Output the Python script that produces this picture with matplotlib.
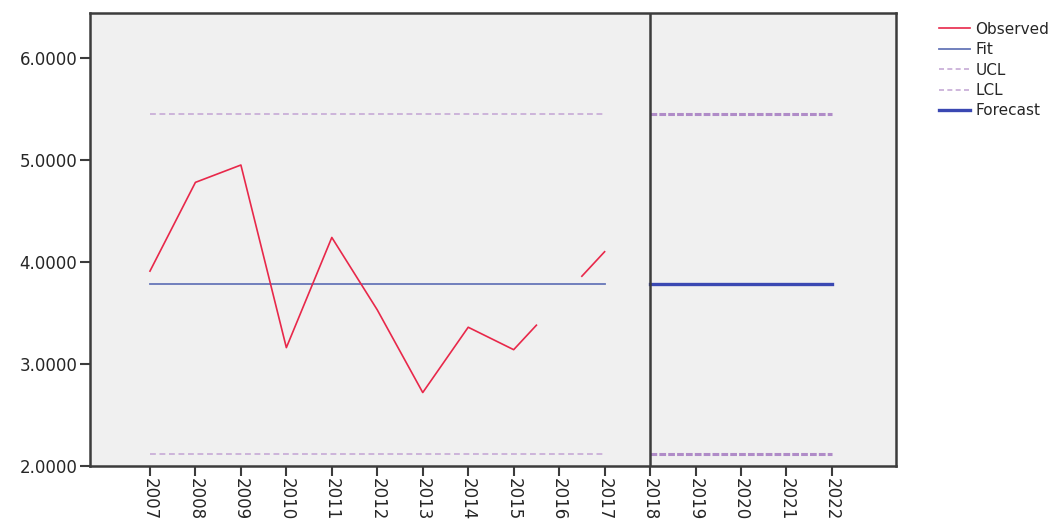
import numpy as np
import matplotlib.pyplot as plt
from matplotlib.lines import Line2D
from matplotlib.ticker import FormatStrFormatter

# anos e serie observada
anos = np.arange(2007, 2018)
observado = [3.91, 4.78, 4.95, 3.16, 4.24, 3.53, 2.72, 3.36, 3.14, 3.62, 4.10]
# ano com trecho nao desenhado (so metade de cada segmento vizinho aparece)
ano_falta = 2016

# ajuste e limites no periodo observado
ajuste = 3.78
ucl = 5.45
lcl = 2.12

# previsao
anos_prev = np.arange(2018, 2023)
previsao = [3.78, 3.78, 3.78, 3.78, 3.78]
ucl_prev = [5.45, 5.45, 5.45, 5.45, 5.45]
lcl_prev = [2.12, 2.12, 2.12, 2.12, 2.12]

fig = plt.figure(figsize=(10.57, 5.24), dpi=100)
ax = fig.add_axes([0.0851, 0.1107, 0.7626, 0.8645])
ax.set_facecolor("#f0f0f0")

# linha observada, quebrada em volta do ano sem trecho
obs = np.array(observado, dtype=float)
xs = anos.astype(float)
i = list(anos).index(ano_falta)
x1 = np.append(xs[:i], ano_falta - 0.5)
y1 = np.append(obs[:i], (obs[i - 1] + obs[i]) / 2)
x2 = np.insert(xs[i + 1:], 0, ano_falta + 0.5)
y2 = np.insert(obs[i + 1:], 0, (obs[i] + obs[i + 1]) / 2)
ax.plot(x1, y1, color="#e8284a", lw=1.2, zorder=4)
ax.plot(x2, y2, color="#e8284a", lw=1.2, zorder=4)

# ajuste e limites
ax.plot(anos, [ajuste] * len(anos), color="#6676b8", lw=1.3, zorder=3)
ax.plot(anos, [ucl] * len(anos), color="#c6aad6", lw=1.2, ls=(0, (3.5, 2.2)))
ax.plot(anos, [lcl] * len(anos), color="#c6aad6", lw=1.2, ls=(0, (3.5, 2.2)))

# previsao
ax.plot(anos_prev, previsao, color="#3a48b2", lw=2.4, zorder=3)
ax.plot(anos_prev, ucl_prev, color="#b08cc8", lw=2.2, ls=(0, (2.2, 0.7)))
ax.plot(anos_prev, lcl_prev, color="#b08cc8", lw=2.2, ls=(0, (2.2, 0.7)))

# linha separando observado e previsao
ax.axvline(2018, color="#3c3c3c", lw=1.8, zorder=5)

ax.set_xlim(2005.68, 2023.41)
ax.set_ylim(2.0, 6.44)
ax.set_xticks(np.arange(2007, 2023))
ax.set_xticklabels([str(a) for a in range(2007, 2023)], rotation=-90,
                   fontsize=12, color="#262626")
ax.set_yticks([2, 3, 4, 5, 6])
ax.yaxis.set_major_formatter(FormatStrFormatter("%.4f"))
ax.tick_params(axis="y", labelsize=12, labelcolor="#262626", length=7,
               width=1.5, color="#3c3c3c", pad=2)
ax.tick_params(axis="x", length=7, width=1.5, color="#3c3c3c", pad=2)
for s in ax.spines.values():
    s.set_color("#3c3c3c")
    s.set_linewidth(1.8)

itens = [
    Line2D([], [], color="#e8284a", lw=1.2),
    Line2D([], [], color="#6676b8", lw=1.3),
    Line2D([], [], color="#c6aad6", lw=1.2, ls=(0, (3, 2))),
    Line2D([], [], color="#c6aad6", lw=1.2, ls=(0, (3, 2))),
    Line2D([], [], color="#3a48b2", lw=2.4),
]
leg = fig.legend(itens, ["Observed", "Fit", "UCL", "LCL", "Forecast"],
                 loc="upper left", bbox_to_anchor=(0.883, 0.97), frameon=False,
                 fontsize=11, handlelength=2.0, handletextpad=0.35,
                 labelspacing=0.35, borderaxespad=0)
for t in leg.get_texts():
    t.set_color("#262626")

fig.savefig("out.png", dpi=100)
